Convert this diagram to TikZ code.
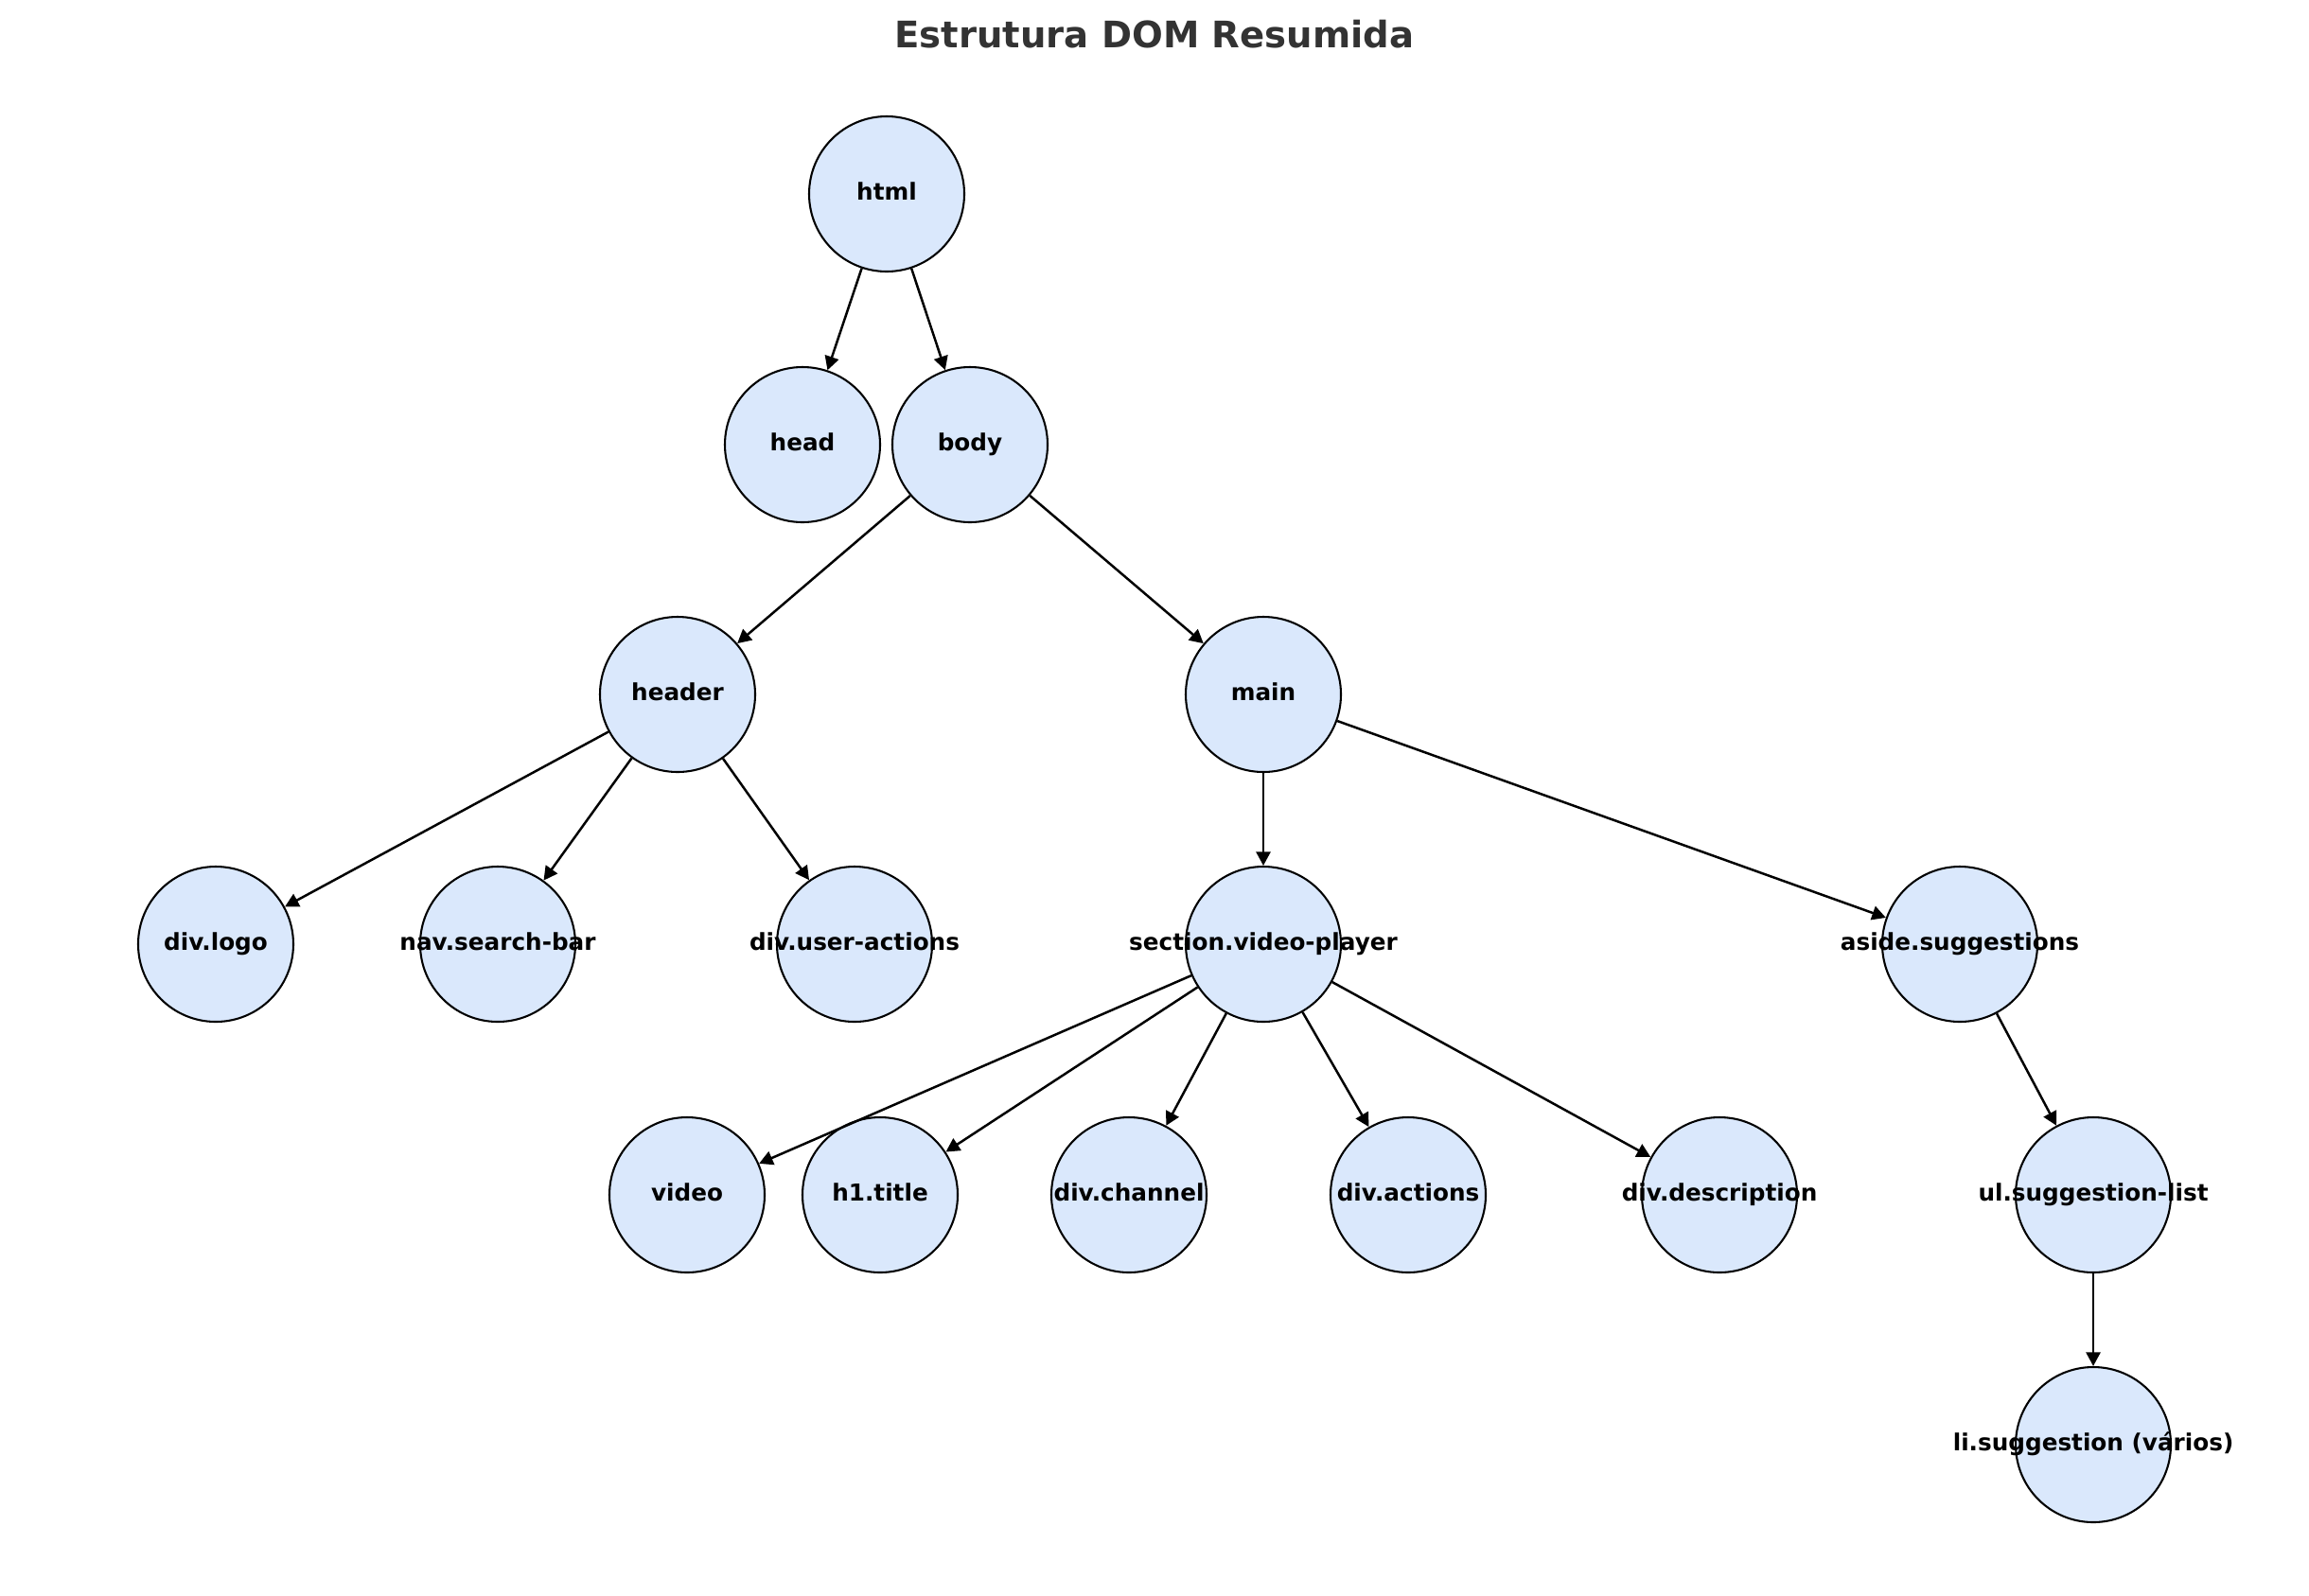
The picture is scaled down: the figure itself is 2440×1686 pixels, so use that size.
\documentclass[tikz,border=0pt]{standalone}
\usepackage{fontspec}
\setmainfont{DejaVu Sans}
\usepackage{xcolor}
\usepackage{tikz}
\definecolor{domfill}{HTML}{DAE8FC}
\definecolor{domtitle}{HTML}{333333}
\usetikzlibrary{arrows.meta,positioning}

\begin{document}
\begin{tikzpicture}[x=0.16933mm, y=-0.16933mm,
    domnode/.style={circle, draw=black, fill=domfill, line width=1pt, minimum size=27.77mm, inner sep=0pt},
    every label/.style={font=\fontsize{11.9}{14}\selectfont\bfseries, text height=0.8em, text depth=0.22em, inner sep=0pt},
    edge/.style={-{Triangle[length=7pt, width=7.2pt]}, line width=1.2pt, black}]
    \useasboundingbox (0,0) rectangle (2440,1686);

    % Title
    \node[anchor=base, font=\fontsize{18.6}{22}\selectfont\bfseries, text=domtitle] (heading) at (1220,50) {Estrutura DOM Resumida};

    % Tree levels
    \node[domnode, label=center:html] (html) at (937,205) {};

    \node[domnode, label=center:head] (head) at (848,470) {};
    \node[domnode, label=center:body] (body) at (1025,470) {};

    \node[domnode, label=center:header] (header) at (716,734) {};
    \node[domnode, label=center:main] (main) at (1335,734) {};

    \node[domnode, label=center:div.logo] (logo) at (228,998) {};
    \node[domnode, label=center:nav.search-bar] (search) at (526,998) {};
    \node[domnode, label=center:div.user-actions] (useractions) at (903,998) {};
    \node[domnode, label=center:section.video-player] (section) at (1335,998) {};
    \node[domnode, label=center:aside.suggestions] (aside) at (2071,998) {};

    \node[domnode, label=center:video] (video) at (726,1263) {};
    \node[domnode, label=center:h1.title] (title) at (930,1263) {};
    \node[domnode, label=center:div.channel] (channel) at (1193,1263) {};
    \node[domnode, label=center:div.actions] (actions) at (1488,1263) {};
    \node[domnode, label=center:div.description] (description) at (1817,1263) {};
    \node[domnode, label=center:ul.suggestion-list] (ullist) at (2212,1263) {};

    \node[domnode, label=center:{li.suggestion (vários)}] (li) at (2212,1527) {};

    % Parent -> child arrows
    \draw[edge] (html) -- (head);
    \draw[edge] (html) -- (body);
    \draw[edge] (body) -- (header);
    \draw[edge] (body) -- (main);
    \draw[edge] (header) -- (logo);
    \draw[edge] (header) -- (search);
    \draw[edge] (header) -- (useractions);
    \draw[edge] (main) -- (section);
    \draw[edge] (main) -- (aside);
    \draw[edge] (section) -- (video);
    \draw[edge] (section) -- (title);
    \draw[edge] (section) -- (channel);
    \draw[edge] (section) -- (actions);
    \draw[edge] (section) -- (description);
    \draw[edge] (aside) -- (ullist);
    \draw[edge] (ullist) -- (li);
\end{tikzpicture}
\end{document}
